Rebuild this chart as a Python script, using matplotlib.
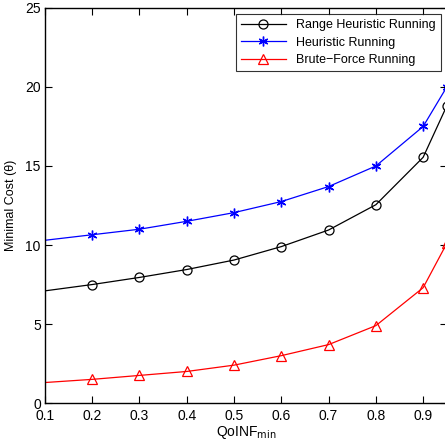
import matplotlib
matplotlib.use("Agg")
import matplotlib.pyplot as plt

plt.rcParams['font.family'] = ['Liberation Sans', 'DejaVu Sans']

# ── data ──────────────────────────────────────────────────────────────────────
qoinf = [0.1, 0.2, 0.3, 0.4, 0.5, 0.6, 0.7, 0.8, 0.9, 0.95]
range_heuristic = [7.1, 7.5, 7.95, 8.45, 9.05, 9.9, 10.95, 12.55, 15.55, 18.8]
heuristic = [10.3, 10.65, 11.0, 11.5, 12.05, 12.75, 13.7, 15.0, 17.5, 20.0]
brute_force = [1.3, 1.5, 1.75, 2.0, 2.4, 3.0, 3.7, 4.9, 7.3, 10.1]

x_ticks = [0.1, 0.2, 0.3, 0.4, 0.5, 0.6, 0.7, 0.8, 0.9]
y_ticks = [0, 5, 10, 15, 20, 25]

# ── plot ──────────────────────────────────────────────────────────────────────
fig = plt.figure(figsize=(4.45, 4.41), dpi=100)
ax = fig.add_axes([0.101, 0.086, 0.903, 0.896])

marks = list(range(1, len(qoinf)))
ax.plot(qoinf, range_heuristic, color='black', lw=0.9, marker='o', ms=6.5,
        mfc='none', mew=0.9, markevery=marks, label='Range Heuristic Running')
ax.plot(qoinf, heuristic, color='blue', lw=0.9, marker=(6, 2, 0), ms=7,
        mew=1.0, markevery=marks, label='Heuristic Running')
ax.plot(qoinf, brute_force, color='red', lw=0.9, marker='^', ms=6.5,
        mfc='none', mew=0.9, markevery=marks, label='Brute\u2212Force Running')

ax.set_xlim(0.1, 0.95)
ax.set_ylim(0, 25)
ax.set_xticks(x_ticks)
ax.set_xticklabels([str(t) for t in x_ticks])
ax.set_yticks(y_ticks)
ax.tick_params(direction='in', top=True, right=True, length=5, width=0.8,
               labelsize=10, pad=3)
ax.tick_params(axis='x', pad=4)
for s in ax.spines.values():
    s.set_linewidth(1.0)

ax.set_xlabel('QoINF$_{\\rm min}$', fontsize=10, labelpad=1)
ax.set_ylabel('Minimal Cost (\u03b8)', fontsize=9, labelpad=6)

leg = ax.legend(loc='upper right', fontsize=9, frameon=True, fancybox=False,
                edgecolor='black', borderaxespad=0.5, handlelength=3.6,
                labelspacing=0.45, borderpad=0.4)
leg.get_frame().set_linewidth(0.8)

plt.savefig('out.png', dpi=100)
plt.close()
